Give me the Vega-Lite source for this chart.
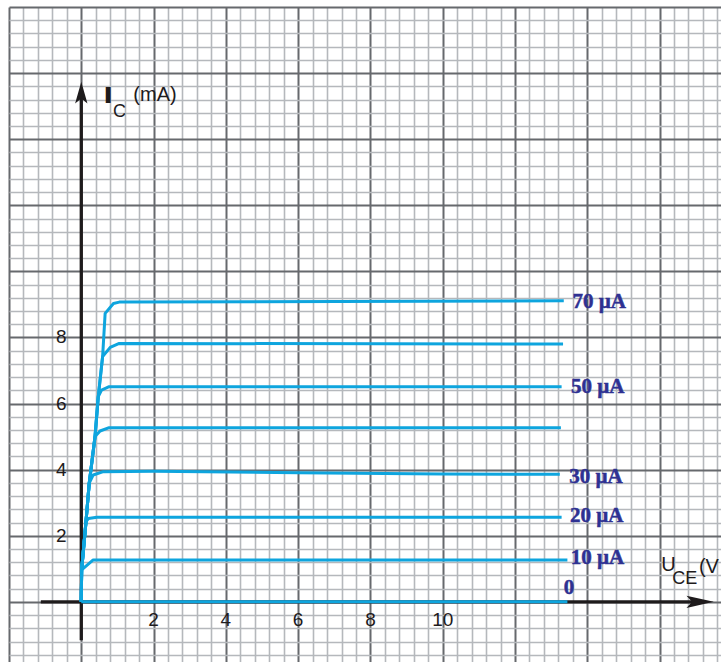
{
  "$schema": "https://vega.github.io/schema/vega-lite/v6.json",
  "width": 712,
  "height": 655,
  "autosize": {"type": "none"},
  "padding": {"left": 9, "top": 7, "right": 0, "bottom": 0},
  "background": "white",
  "config": {"view": {"stroke": null}},
  "datasets": {
    "axes": [
      {"ax": "x", "V": -1.12, "I": 0, "V2": 17.2, "I2": 0},
      {"ax": "y", "V": 0, "I": -1.16, "V2": 0, "I2": 15.4}
    ],
    "arrows": [
      {"dir": "right", "V": 17.5, "I": 0},
      {"dir": "up", "V": 0, "I": 15.74}
    ],
    "curves": [
      {"c": "0", "o": 0, "V": 0, "I": 0},
      {"c": "0", "o": 1, "V": 13.45, "I": 0},

      {"c": "10", "o": 0, "V": 0, "I": 0},
      {"c": "10", "o": 1, "V": 0.01, "I": 0.97},
      {"c": "10", "o": 2, "V": 0.33, "I": 1.27},
      {"c": "10", "o": 3, "V": 13.45, "I": 1.27},

      {"c": "20", "o": 0, "V": 0, "I": 0},
      {"c": "20", "o": 1, "V": 0.01, "I": 0.97},
      {"c": "20", "o": 2, "V": 0.13, "I": 2.43},
      {"c": "20", "o": 3, "V": 0.2, "I": 2.52},
      {"c": "20", "o": 4, "V": 0.43, "I": 2.56},
      {"c": "20", "o": 5, "V": 13.29, "I": 2.56},

      {"c": "30", "o": 0, "V": 0, "I": 0},
      {"c": "30", "o": 1, "V": 0.01, "I": 0.97},
      {"c": "30", "o": 2, "V": 0.13, "I": 2.43},
      {"c": "30", "o": 3, "V": 0.22, "I": 3.59},
      {"c": "30", "o": 4, "V": 0.33, "I": 3.84},
      {"c": "30", "o": 5, "V": 0.61, "I": 3.94},
      {"c": "30", "o": 6, "V": 2, "I": 3.95},
      {"c": "30", "o": 7, "V": 6, "I": 3.91},
      {"c": "30", "o": 8, "V": 10, "I": 3.87},
      {"c": "30", "o": 9, "V": 13.24, "I": 3.86},

      {"c": "40", "o": 0, "V": 0, "I": 0},
      {"c": "40", "o": 1, "V": 0.01, "I": 0.97},
      {"c": "40", "o": 2, "V": 0.13, "I": 2.43},
      {"c": "40", "o": 3, "V": 0.22, "I": 3.59},
      {"c": "40", "o": 4, "V": 0.38, "I": 5.0},
      {"c": "40", "o": 5, "V": 0.52, "I": 5.17},
      {"c": "40", "o": 6, "V": 0.77, "I": 5.27},
      {"c": "40", "o": 7, "V": 13.27, "I": 5.27},

      {"c": "50", "o": 0, "V": 0, "I": 0},
      {"c": "50", "o": 1, "V": 0.01, "I": 0.97},
      {"c": "50", "o": 2, "V": 0.13, "I": 2.43},
      {"c": "50", "o": 3, "V": 0.22, "I": 3.59},
      {"c": "50", "o": 4, "V": 0.38, "I": 5.0},
      {"c": "50", "o": 5, "V": 0.47, "I": 6.21},
      {"c": "50", "o": 6, "V": 0.56, "I": 6.41},
      {"c": "50", "o": 7, "V": 0.77, "I": 6.51},
      {"c": "50", "o": 8, "V": 13.29, "I": 6.51},

      {"c": "60", "o": 0, "V": 0, "I": 0},
      {"c": "60", "o": 1, "V": 0.01, "I": 0.97},
      {"c": "60", "o": 2, "V": 0.13, "I": 2.43},
      {"c": "60", "o": 3, "V": 0.22, "I": 3.59},
      {"c": "60", "o": 4, "V": 0.38, "I": 5.0},
      {"c": "60", "o": 5, "V": 0.47, "I": 6.21},
      {"c": "60", "o": 6, "V": 0.59, "I": 7.42},
      {"c": "60", "o": 7, "V": 0.8, "I": 7.7},
      {"c": "60", "o": 8, "V": 1.05, "I": 7.82},
      {"c": "60", "o": 9, "V": 13.33, "I": 7.8},

      {"c": "70", "o": 0, "V": 0, "I": 0},
      {"c": "70", "o": 1, "V": 0.01, "I": 0.97},
      {"c": "70", "o": 2, "V": 0.13, "I": 2.43},
      {"c": "70", "o": 3, "V": 0.22, "I": 3.59},
      {"c": "70", "o": 4, "V": 0.38, "I": 5.0},
      {"c": "70", "o": 5, "V": 0.47, "I": 6.21},
      {"c": "70", "o": 6, "V": 0.59, "I": 7.42},
      {"c": "70", "o": 7, "V": 0.66, "I": 8.73},
      {"c": "70", "o": 8, "V": 0.89, "I": 9.03},
      {"c": "70", "o": 9, "V": 1.05, "I": 9.07},
      {"c": "70", "o": 10, "V": 13.35, "I": 9.11}
    ],
    "curveLabels": [
      {"t": "70 µA", "V": 13.59, "I": 9.08},
      {"t": "50 µA", "V": 13.55, "I": 6.51},
      {"t": "30 µA", "V": 13.5, "I": 3.79},
      {"t": "20 µA", "V": 13.52, "I": 2.6},
      {"t": "10 µA", "V": 13.54, "I": 1.32},
      {"t": "0", "V": 13.35, "I": 0.41}
    ],
    "tickLabels": [
      {"t": "2", "V": 2, "I": -0.56},
      {"t": "4", "V": 4, "I": -0.56},
      {"t": "6", "V": 6, "I": -0.56},
      {"t": "8", "V": 8, "I": -0.56},
      {"t": "10", "V": 10, "I": -0.56},
      {"t": "2", "V": -0.55, "I": 2},
      {"t": "4", "V": -0.55, "I": 4},
      {"t": "6", "V": -0.55, "I": 6},
      {"t": "8", "V": -0.55, "I": 8}
    ],
    "titles": [
      {"kind": "sym", "t": "I", "V": 0.66, "I": 15.13},
      {"kind": "sub", "t": "C", "V": 0.88, "I": 14.68},
      {"kind": "main", "t": "(mA)", "V": 1.44, "I": 15.17},
      {"kind": "main", "t": "U", "V": 16.05, "I": 0.92},
      {"kind": "sub", "t": "CE", "V": 16.35, "I": 0.53},
      {"kind": "main", "t": "(V", "V": 17.09, "I": 0.88}
    ]
  },
  "encoding": {
    "x": {
      "field": "V",
      "type": "quantitative",
      "scale": {"domain": [-2, 17.7], "nice": false, "zero": false},
      "axis": {
        "title": null,
        "labels": false,
        "ticks": false,
        "domain": false,
        "grid": true,
        "values": [-2, -1.6, -1.2, -0.8, -0.4, 0, 0.4, 0.8, 1.2, 1.6, 2, 2.4, 2.8, 3.2, 3.6, 4, 4.4, 4.8, 5.2, 5.6, 6, 6.4, 6.8, 7.2, 7.6, 8, 8.4, 8.8, 9.2, 9.6, 10, 10.4, 10.8, 11.2, 11.6, 12, 12.4, 12.8, 13.2, 13.6, 14, 14.4, 14.8, 15.2, 15.6, 16, 16.4, 16.8, 17.2, 17.6],
        "gridColor": {"condition": {"test": "datum.value % 2 === 0", "value": "#66696d"}, "value": "#b5b8bc"},
        "gridWidth": {"condition": {"test": "datum.value % 2 === 0", "value": 2}, "value": 1.6},
        "gridOpacity": 1
      }
    },
    "y": {
      "field": "I",
      "type": "quantitative",
      "scale": {"domain": [-1.82, 18], "nice": false, "zero": false},
      "axis": {
        "title": null,
        "labels": false,
        "ticks": false,
        "domain": false,
        "grid": true,
        "values": [-1.6, -1.2, -0.8, -0.4, 0, 0.4, 0.8, 1.2, 1.6, 2, 2.4, 2.8, 3.2, 3.6, 4, 4.4, 4.8, 5.2, 5.6, 6, 6.4, 6.8, 7.2, 7.6, 8, 8.4, 8.8, 9.2, 9.6, 10, 10.4, 10.8, 11.2, 11.6, 12, 12.4, 12.8, 13.2, 13.6, 14, 14.4, 14.8, 15.2, 15.6, 16, 16.4, 16.8, 17.2, 17.6, 18],
        "gridColor": {"condition": {"test": "datum.value % 2 === 0", "value": "#66696d"}, "value": "#b5b8bc"},
        "gridWidth": {"condition": {"test": "datum.value % 2 === 0", "value": 2}, "value": 1.6},
        "gridOpacity": 1
      }
    }
  },
  "layer": [
    {
      "data": {"name": "axes"},
      "mark": {"type": "rule", "color": "#1e1b1c", "strokeWidth": 3.3},
      "encoding": {
        "x2": {"field": "V2"},
        "y2": {"field": "I2"}
      }
    },
    {
      "data": {"name": "arrows"},
      "transform": [{"filter": "datum.dir === 'right'"}],
      "mark": {"type": "point", "filled": true, "color": "#1e1b1c", "opacity": 1, "size": 784, "shape": "M0,0L-1.95,-0.44L-1.55,0L-1.95,0.44Z"}
    },
    {
      "data": {"name": "arrows"},
      "transform": [{"filter": "datum.dir === 'up'"}],
      "mark": {"type": "point", "filled": true, "color": "#1e1b1c", "opacity": 1, "size": 784, "shape": "M0,0L-0.44,1.55L0,1.2L0.44,1.55Z"}
    },
    {
      "data": {"name": "curves"},
      "mark": {"type": "line", "color": "#0ea5de", "strokeWidth": 3, "strokeJoin": "round"},
      "encoding": {
        "detail": {"field": "c"},
        "order": {"field": "o", "type": "quantitative"}
      }
    },
    {
      "data": {"name": "curveLabels"},
      "mark": {"type": "text", "font": "Liberation Serif", "fontWeight": "bold", "fontSize": 21, "color": "#2e3192", "stroke": "#2e3192", "strokeWidth": 0.5, "align": "left", "baseline": "middle"},
      "encoding": {"text": {"field": "t"}}
    },
    {
      "data": {"name": "tickLabels"},
      "mark": {"type": "text", "font": "Liberation Sans", "fontSize": 19, "color": "#1e1b1c", "align": "center", "baseline": "middle"},
      "encoding": {"text": {"field": "t"}}
    },
    {
      "data": {"name": "titles"},
      "transform": [{"filter": "datum.kind === 'sym'"}],
      "mark": {"type": "text", "font": "Liberation Sans", "fontWeight": "bold", "fontSize": 21, "color": "#1e1b1c", "stroke": "#1e1b1c", "strokeWidth": 1.8, "align": "left", "baseline": "alphabetic"},
      "encoding": {"text": {"field": "t"}}
    },
    {
      "data": {"name": "titles"},
      "transform": [{"filter": "datum.kind === 'sub'"}],
      "mark": {"type": "text", "font": "Liberation Sans", "fontSize": 18, "color": "#1e1b1c", "align": "left", "baseline": "alphabetic"},
      "encoding": {"text": {"field": "t"}}
    },
    {
      "data": {"name": "titles"},
      "transform": [{"filter": "datum.kind === 'main'"}],
      "mark": {"type": "text", "font": "Liberation Sans", "fontSize": 20, "color": "#1e1b1c", "align": "left", "baseline": "alphabetic"},
      "encoding": {"text": {"field": "t"}}
    }
  ]
}
